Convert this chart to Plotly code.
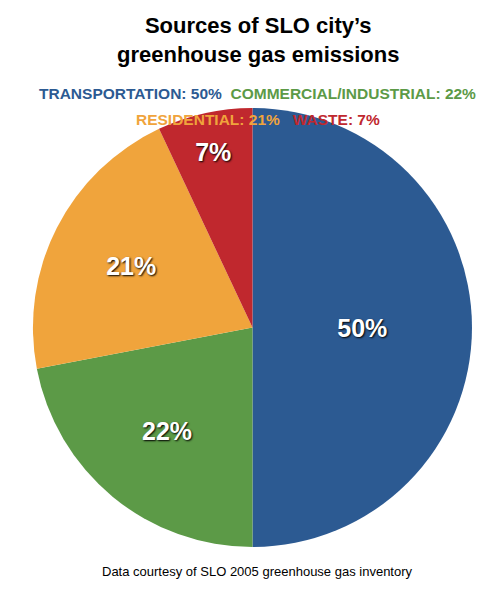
import plotly.graph_objects as go

sources = ["TRANSPORTATION", "COMMERCIAL/INDUSTRIAL", "RESIDENTIAL", "WASTE"]
shares = [50, 22, 21, 7]
colors = ["#2c5a92", "#5c9a47", "#f0a43c", "#c0282e"]

fig = go.Figure()
fig.add_trace(go.Pie(
    labels=sources,
    values=shares,
    sort=False,
    direction="clockwise",
    rotation=0,
    marker=dict(colors=colors, line=dict(color="white", width=0)),
    texttemplate="%{value}%",
    textposition="inside",
    insidetextorientation="horizontal",
    textfont=dict(family="Liberation Sans", size=25, color="white", weight="bold",
                  shadow="1px 1px 2px black"),
    domain=dict(x=[0.05, 0.93], y=[0.10, 0.835]),
    showlegend=False,
    hoverinfo="label+percent",
))

fig.add_annotation(
    text="<b>Sources of SLO city’s<br>greenhouse gas emissions</b>",
    x=0.5, y=0.995, xref="paper", yref="paper", xanchor="center", yanchor="top",
    showarrow=False, font=dict(family="Liberation Sans", size=22, color="black"),
)
legend1 = ("<b><span style='color:%s'>%s: %d%%</span>  "
           "<span style='color:%s'>%s: %d%%</span></b>"
           % (colors[0], sources[0], shares[0], colors[1], sources[1], shares[1]))
legend2 = ("<b><span style='color:%s'>%s: %d%%</span>   "
           "<span style='color:%s'>%s: %d%%</span></b>"
           % (colors[2], sources[2], shares[2], colors[3], sources[3], shares[3]))
fig.add_annotation(text=legend1, x=0.5, y=0.875, xref="paper", yref="paper",
                   showarrow=False, font=dict(family="Liberation Sans", size=15.5))
fig.add_annotation(text=legend2, x=0.5, y=0.832, xref="paper", yref="paper",
                   showarrow=False, font=dict(family="Liberation Sans", size=15.5))
fig.add_annotation(text="Data courtesy of SLO 2005 greenhouse gas inventory",
                   x=0.5, y=0.045, xref="paper", yref="paper", showarrow=False,
                   font=dict(family="Liberation Sans", size=13, color="black"))

fig.update_layout(width=499, height=600, margin=dict(l=0, r=0, t=0, b=0),
                  paper_bgcolor="white", plot_bgcolor="white")
fig.write_html("out.html")
